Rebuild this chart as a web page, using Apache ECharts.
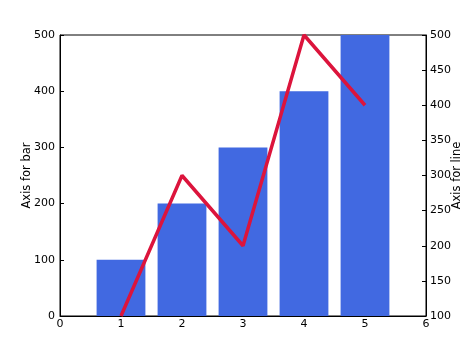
<!DOCTYPE html>
<html>
<head>
<meta charset="utf-8">
<script src="https://cdn.jsdelivr.net/npm/echarts@6/dist/echarts.min.js"></script>
<style>html,body{margin:0;padding:0;background:#fff;}#c{width:474px;height:351px;}</style>
</head>
<body>
<div id="c"></div>
<script>
var xValues = [1, 2, 3, 4, 5];
var barValues = [100, 200, 300, 400, 500];
var lineValues = [100, 300, 200, 500, 400];
var leftTicks = [0, 100, 200, 300, 400, 500];
var rightTicks = [100, 150, 200, 250, 300, 350, 400, 450, 500];
var xTicks = [0, 1, 2, 3, 4, 5, 6];

var chart = echarts.init(document.getElementById('c'), null, {renderer: 'canvas'});
var font = 'DejaVu Sans';
var axisCommon = {
  axisLine: {show: true, lineStyle: {color: '#000', width: 1}},
  axisTick: {show: true, inside: true, length: 4, lineStyle: {color: '#000'}},
  splitLine: {show: false},
  axisLabel: {color: '#000', fontFamily: font, fontSize: 11}
};
chart.setOption({
  animation: false,
  grid: {left: 60, right: 48, top: 35, bottom: 35, show: true, borderColor: '#000', borderWidth: 1,
         containLabel: false, outerBoundsMode: 'none'},
  xAxis: Object.assign({}, axisCommon, {
    type: 'value', min: xTicks[0], max: xTicks[xTicks.length - 1], interval: 1,
    axisLabel: {color: '#000', fontFamily: font, fontSize: 11, margin: 3}
  }),
  yAxis: [
    Object.assign({}, axisCommon, {
      type: 'value', min: leftTicks[0], max: leftTicks[leftTicks.length - 1], interval: 100,
      name: 'Axis for bar', nameLocation: 'middle', nameGap: 27, nameMoveOverlap: false,
      nameTextStyle: {color: '#000', fontFamily: font, fontSize: 11.5},
      axisLabel: {color: '#000', fontFamily: font, fontSize: 11, margin: 5}
    }),
    Object.assign({}, axisCommon, {
      type: 'value', position: 'right', min: rightTicks[0], max: rightTicks[rightTicks.length - 1], interval: 50,
      name: 'Axis for line', nameLocation: 'middle', nameGap: 25, nameMoveOverlap: false,
      nameTextStyle: {color: '#000', fontFamily: font, fontSize: 11.5},
      axisLabel: {color: '#000', fontFamily: font, fontSize: 11, margin: 4}
    })
  ],
  series: [
    {
      type: 'bar', yAxisIndex: 0, barWidth: 48.8,
      itemStyle: {color: '#4169E1', borderWidth: 0},
      data: xValues.map(function (x, i) { return [x, barValues[i]]; })
    },
    {
      type: 'line', yAxisIndex: 1, symbol: 'none',
      lineStyle: {color: '#DC143C', width: 3.5},
      data: xValues.map(function (x, i) { return [x, lineValues[i]]; })
    }
  ]
});
</script>
</body>
</html>
